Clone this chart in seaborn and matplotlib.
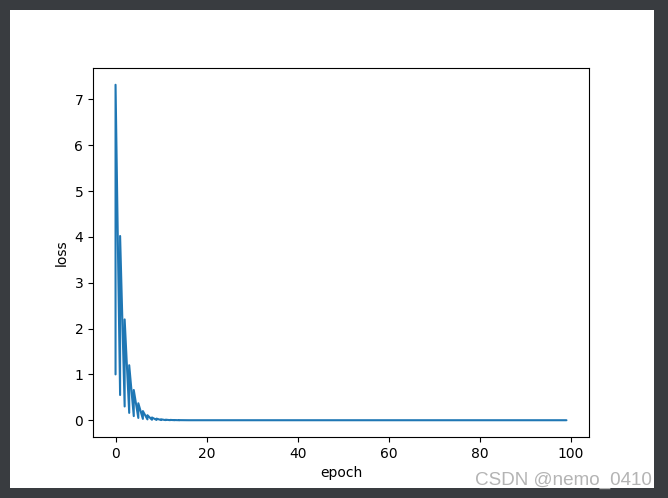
import pandas as pd
import seaborn as sns
import matplotlib.pyplot as plt
from matplotlib.patches import Rectangle

# loss is logged twice per epoch (low value, then high value)
low_loss = [1.00, 0.55, 0.30, 0.16, 0.09, 0.05, 0.03, 0.018, 0.010, 0.006,
            0.004, 0.002, 0.001, 0.001, 0.0, 0.0]
high_loss = [7.32, 4.02, 2.20, 1.20, 0.66, 0.37, 0.20, 0.11, 0.06, 0.035,
             0.02, 0.012, 0.007, 0.004, 0.002, 0.001]
tail_loss = [0.0] * (100 - len(low_loss))

rows = []
for ep, (lo, hi) in enumerate(zip(low_loss + tail_loss, high_loss + tail_loss)):
    rows.append({"epoch": ep, "loss": lo})
    rows.append({"epoch": ep, "loss": hi})
df = pd.DataFrame(rows)

sns.set_style("ticks")
plt.rcParams["font.family"] = ["DejaVu Sans"]
plt.rcParams["text.color"] = "black"
plt.rcParams["axes.labelcolor"] = "black"

fig = plt.figure(figsize=(6.68, 4.98), dpi=100, facecolor="#393c40")
fig.patches.append(Rectangle((10 / 668, 10 / 498), 644 / 668, 478 / 498,
                             transform=fig.transFigure, facecolor="white",
                             edgecolor="none", zorder=-10))
ax = fig.add_axes([93 / 668, 61 / 498, 496 / 668, 369 / 498])
ax.set_zorder(5)

sns.lineplot(data=df, x="epoch", y="loss", estimator=None, sort=False,
             color="#1f77b4", linewidth=1.5, ax=ax)
ax.set_xticks([0, 20, 40, 60, 80, 100])
ax.set_yticks(range(0, 8))
ax.set_xlim(-4.95, 103.95)
ax.set_ylim(-0.366, 7.686)
for s in ax.spines.values():
    s.set_linewidth(0.8)
    s.set_color("black")
ax.tick_params(labelsize=10, colors="black", width=0.8, length=3.5)
ax.set_xlabel("epoch", fontsize=10, color="black")
ax.set_ylabel("loss", fontsize=10, color="black")

fig.text(652 / 668, 9 / 498, "CSDN @nemo_0410", ha="right", va="bottom",
         fontsize=13.6, color="#b4b4b4", family=["Liberation Sans", "DejaVu Sans"],
         zorder=10)

fig.savefig("out.png", dpi=100, facecolor=fig.get_facecolor())
